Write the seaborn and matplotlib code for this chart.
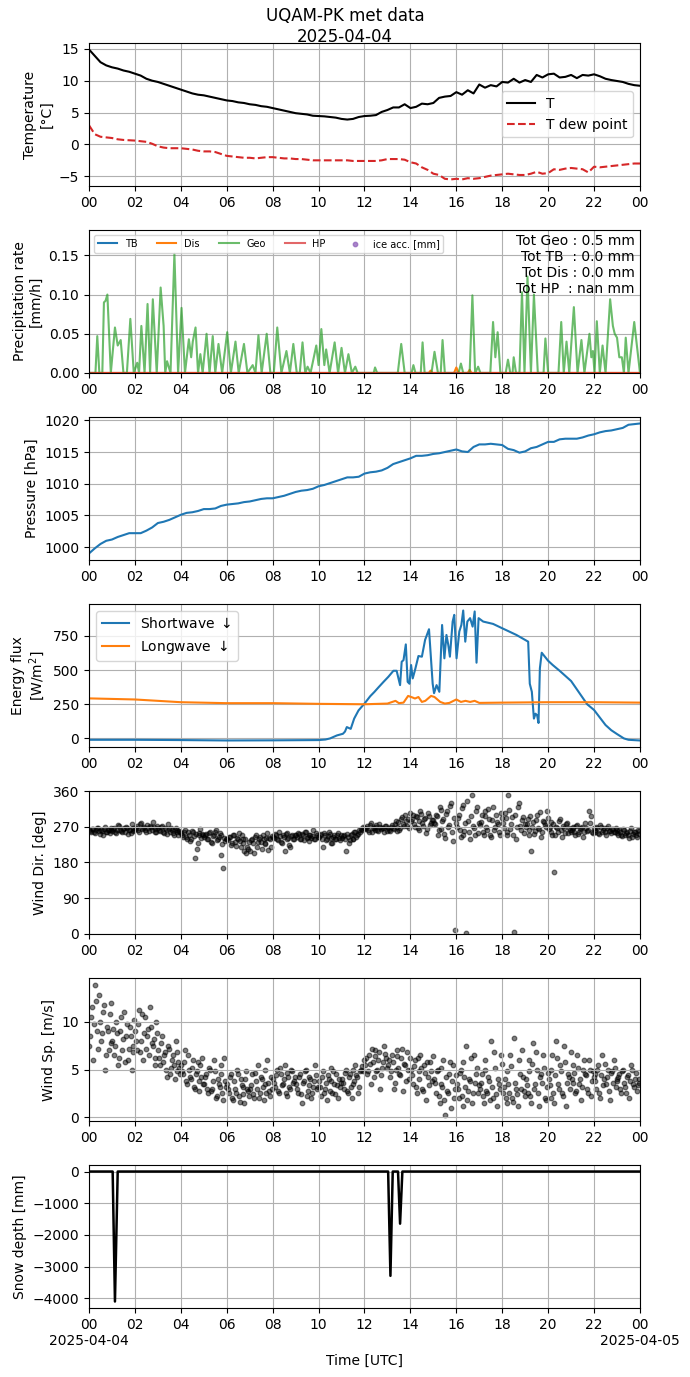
import numpy as np
import pandas as pd
import matplotlib
matplotlib.use("Agg")
import matplotlib.pyplot as plt
import seaborn as sns

# ---------------- data ----------------
DAY = "2025-04-04"
title_text = "UQAM-PK met data\n2025-04-04"

# Temperature (every 15 min)
temp_hours = [i * 0.25 for i in range(97)]
temp_T = [14.9, 13.9, 12.9, 12.4, 12.1, 11.9, 11.6, 11.4, 11.1, 10.8, 10.3, 10.0,
          9.8, 9.5, 9.2, 8.9, 8.6, 8.3, 8.0, 7.8, 7.7, 7.5, 7.3, 7.1,
          6.9, 6.8, 6.6, 6.5, 6.3, 6.2, 6.0, 5.9, 5.7, 5.5, 5.3, 5.1,
          4.9, 4.8, 4.7, 4.5, 4.45, 4.4, 4.3, 4.2, 4.0, 3.9, 4.0, 4.3,
          4.45, 4.5, 4.6, 5.1, 5.4, 5.8, 5.8, 6.3, 5.7, 5.9, 6.4, 6.3,
          6.5, 7.3, 7.5, 7.6, 8.2, 7.8, 8.5, 8.0, 9.4, 8.9, 9.3, 9.1,
          9.8, 9.7, 10.3, 9.7, 10.1, 9.8, 10.9, 10.5, 11.0, 11.1, 10.5, 10.6,
          10.9, 10.4, 10.9, 10.8, 11.0, 10.7, 10.3, 10.1, 9.95, 9.8, 9.5, 9.3, 9.2]
temp_Td = [3.0, 1.6, 1.2, 1.1, 1.0, 0.8, 0.7, 0.65, 0.6, 0.5, 0.4, 0.1,
           -0.3, -0.5, -0.6, -0.6, -0.6, -0.7, -0.8, -1.0, -1.1, -1.1, -1.2, -1.5,
           -1.8, -1.9, -2.0, -2.1, -2.1, -2.2, -2.1, -2.0, -2.0, -2.1, -2.2, -2.2,
           -2.3, -2.3, -2.4, -2.5, -2.5, -2.5, -2.5, -2.5, -2.5, -2.5, -2.6, -2.6,
           -2.6, -2.6, -2.6, -2.5, -2.3, -2.3, -2.3, -2.4, -2.8, -3.0, -3.6, -4.0,
           -4.6, -4.8, -5.4, -5.5, -5.4, -5.5, -5.3, -5.4, -5.3, -5.1, -4.9, -4.8,
           -4.7, -4.6, -4.7, -4.8, -4.8, -4.6, -4.3, -4.6, -4.5, -3.9, -4.0, -3.8,
           -3.7, -3.8, -3.9, -4.4, -3.5, -3.6, -3.5, -3.4, -3.3, -3.2, -3.1, -3.0, -3.0]

# Precipitation rate [mm/h]
geo_hours = [0.00, 0.28, 0.36, 0.45, 0.58, 0.65, 0.72, 0.80, 0.95, 1.13, 1.25, 1.38, 1.50, 1.65,
             1.80, 1.95, 2.10, 2.18, 2.28, 2.42, 2.55, 2.66, 2.78, 2.95, 3.12, 3.25, 3.32, 3.40,
             3.55, 3.72, 3.88, 4.03, 4.18, 4.35, 4.45, 4.52, 4.64, 4.75, 4.85, 4.95, 5.12, 5.25,
             5.39, 5.50, 5.64, 5.80, 6.02, 6.18, 6.38, 6.52, 6.75, 6.90, 7.13, 7.25, 7.38, 7.52,
             7.74, 7.90, 8.05, 8.20, 8.38, 8.60, 8.75, 8.90, 9.05, 9.18, 9.30, 9.42, 9.52, 9.65,
             9.90, 10.00, 10.12, 10.25, 10.33, 10.48, 10.70, 10.85, 11.00, 11.15, 11.30, 11.45,
             11.60, 11.70, 12.40, 12.46, 12.55, 13.45, 13.60, 13.75, 14.05, 14.13, 14.22, 14.45,
             14.53, 14.62, 14.92, 15.05, 15.20, 15.32, 15.40, 15.50, 16.10, 16.20, 16.30, 16.58,
             16.70, 16.82, 16.95, 17.05, 17.48, 17.60, 17.70, 17.80, 17.92, 18.15, 18.25, 18.35,
             18.45, 18.50, 18.60, 18.75, 18.86, 18.97, 19.10, 19.25, 19.38, 19.55, 19.80, 19.88,
             20.00, 20.45, 20.57, 20.68, 20.80, 20.92, 21.12, 21.28, 21.45, 21.58, 21.80, 21.88,
             21.95, 22.02, 22.12, 22.25, 22.37, 22.50, 22.70, 22.82, 22.90, 23.00, 23.10, 23.21,
             23.30, 23.38, 23.50, 23.75, 24.00]
geo_vals = [0.0, 0.0, 0.047, 0.0, 0.0, 0.090, 0.092, 0.100, 0.0, 0.058, 0.035, 0.042, 0.0, 0.0,
            0.069, 0.0, 0.013, 0.0, 0.060, 0.0, 0.088, 0.0, 0.094, 0.0, 0.109, 0.060, 0.0, 0.015,
            0.0, 0.152, 0.0, 0.083, 0.0, 0.043, 0.020, 0.040, 0.058, 0.0, 0.024, 0.0, 0.050, 0.0,
            0.047, 0.0, 0.037, 0.0, 0.052, 0.0, 0.040, 0.0, 0.037, 0.0, 0.010, 0.0, 0.048, 0.0,
            0.050, 0.0, 0.0, 0.058, 0.0, 0.028, 0.0, 0.037, 0.0, 0.0, 0.039, 0.0, 0.008, 0.0,
            0.035, 0.010, 0.056, 0.010, 0.030, 0.0, 0.039, 0.0, 0.032, 0.0, 0.024, 0.0,
            0.008, 0.0, 0.0, 0.007, 0.0, 0.0, 0.037, 0.0, 0.0, 0.010, 0.0, 0.0,
            0.039, 0.0, 0.0, 0.027, 0.0, 0.0, 0.042, 0.0, 0.0, 0.012, 0.0, 0.0,
            0.099, 0.0, 0.008, 0.0, 0.0, 0.065, 0.020, 0.052, 0.0, 0.0, 0.017, 0.0,
            0.0, 0.020, 0.0, 0.0, 0.103, 0.0, 0.123, 0.0, 0.100, 0.0, 0.0, 0.044,
            0.0, 0.0, 0.065, 0.0, 0.040, 0.0, 0.084, 0.0, 0.042, 0.0, 0.050, 0.020,
            0.028, 0.0, 0.066, 0.0, 0.035, 0.0, 0.094, 0.060, 0.050, 0.045, 0.020, 0.020,
            0.0, 0.045, 0.0, 0.065, 0.0]
dis_hours = [0.0, 14.80, 14.88, 14.96, 15.90, 16.00, 16.10, 16.50, 16.58, 16.66, 24.0]
dis_vals = [0.0, 0.0, 0.003, 0.0, 0.0, 0.007, 0.0, 0.0, 0.004, 0.0, 0.0]
tb_hours = [0.0, 24.0]
tb_vals = [0.0, 0.0]
hp_hours = [0.0, 24.0]
hp_vals = [0.0, 0.0]
totals_text = "Tot Geo : 0.5 mm\nTot TB  : 0.0 mm\nTot Dis : 0.0 mm\nTot HP  : nan mm"

# Pressure [hPa] (every 15 min)
pres_hours = [i * 0.25 for i in range(97)]
pres_vals = [999.0, 999.8, 1000.5, 1001.0, 1001.2, 1001.6, 1001.9, 1002.2, 1002.2, 1002.2, 1002.6, 1003.1,
             1003.8, 1004.0, 1004.3, 1004.7, 1005.1, 1005.4, 1005.5, 1005.7, 1006.0, 1006.0, 1006.1, 1006.5,
             1006.7, 1006.8, 1006.9, 1007.1, 1007.2, 1007.4, 1007.6, 1007.7, 1007.7, 1007.9, 1008.1, 1008.4,
             1008.7, 1008.9, 1009.0, 1009.2, 1009.6, 1009.8, 1010.1, 1010.4, 1010.7, 1011.0, 1011.0, 1011.1,
             1011.6, 1011.8, 1011.9, 1012.1, 1012.5, 1013.1, 1013.4, 1013.7, 1014.0, 1014.4, 1014.4, 1014.5,
             1014.7, 1014.8, 1015.0, 1015.2, 1015.4, 1015.1, 1015.0, 1015.8, 1016.2, 1016.2, 1016.3, 1016.2,
             1016.1, 1015.5, 1015.3, 1014.9, 1015.1, 1015.6, 1015.8, 1016.2, 1016.6, 1016.6, 1017.0, 1017.1,
             1017.1, 1017.1, 1017.3, 1017.6, 1017.8, 1018.1, 1018.3, 1018.4, 1018.6, 1018.8, 1019.3, 1019.4, 1019.5]

# Energy flux [W/m2]
sw_hours = [0.0, 2.0, 4.0, 6.0, 8.0, 10.0, 10.3, 10.5, 10.8, 11.06, 11.15, 11.23, 11.4, 11.55, 11.74,
            12.0, 12.25, 12.43, 12.6, 12.83, 13.04, 13.26, 13.4, 13.55, 13.62, 13.7, 13.8, 13.88, 13.96,
            14.03, 14.1, 14.2, 14.35, 14.5, 14.64, 14.81, 14.97, 15.03, 15.14, 15.26, 15.38, 15.48,
            15.57, 15.65, 15.72, 15.84, 15.91, 16.01, 16.13, 16.22, 16.3, 16.39, 16.48, 16.6, 16.71,
            16.8, 16.88, 16.97, 17.17, 17.6, 18.0, 18.62, 19.13, 19.2, 19.29, 19.38, 19.45, 19.52,
            19.58, 19.64, 19.72, 20.0, 20.2, 20.5, 21.0, 21.7, 22.0, 22.5, 22.75, 23.0, 23.3, 23.5, 24.0]
sw_vals = [-10, -10, -12, -15, -14, -12, -8, 0, 22, 34, 50, 83, 70, 145, 205,
           255, 309, 340, 372, 414, 451, 495, 495, 390, 561, 573, 688, 414, 400,
           537, 439, 500, 603, 598, 721, 799, 400, 331, 390, 341, 830, 586,
           757, 684, 598, 855, 904, 586, 782, 830, 936, 708, 855, 880, 818,
           929, 554, 880, 855, 838, 806, 757, 708, 400, 341, 145, 181, 169,
           113, 513, 627, 568, 537, 495, 420, 250, 208, 98, 60, 32, 0, -10, -15]
lw_hours = [0.0, 2.0, 4.0, 6.0, 8.0, 10.0, 12.0, 13.0, 13.35, 13.5, 13.7, 13.9, 14.1, 14.2, 14.35,
            14.5, 14.65, 14.9, 15.05, 15.3, 15.5, 15.7, 16.0, 16.2, 16.4, 16.6, 16.8, 17.0, 18.0,
            20.0, 22.0, 24.0]
lw_vals = [293, 285, 265, 258, 258, 253, 250, 255, 275, 258, 262, 311, 299, 292, 303,
           267, 275, 311, 303, 267, 255, 260, 285, 267, 275, 267, 275, 260, 262,
           265, 265, 262]

# Wind direction [deg]: two sets of 12 samples per hour (interleaved in time)
wd_a = [
    [262, 258, 265, 255, 268, 260, 263, 250, 270, 257, 262, 266],
    [260, 268, 255, 275, 262, 258, 266, 270, 252, 263, 278, 260],
    [265, 272, 258, 280, 268, 262, 275, 260, 270, 283, 265, 258],
    [268, 260, 272, 255, 265, 278, 258, 262, 250, 268, 256, 260],
    [255, 245, 262, 240, 250, 238, 258, 192, 215, 248, 265, 252],
    [245, 252, 238, 258, 230, 248, 262, 240, 255, 199, 166, 235],
    [238, 245, 225, 250, 232, 242, 255, 220, 240, 210, 205, 215],
    [208, 240, 205, 250, 232, 245, 215, 238, 228, 255, 242, 220],
    [245, 252, 238, 258, 232, 248, 210, 255, 242, 220, 250, 240],
    [248, 255, 240, 252, 236, 258, 245, 250, 242, 262, 238, 250],
    [245, 252, 218, 248, 238, 256, 242, 230, 250, 240, 255, 236],
    [242, 250, 208, 245, 236, 252, 240, 256, 248, 262, 265, 270],
    [265, 272, 258, 280, 268, 262, 275, 260, 270, 266, 258, 272],
    [268, 260, 275, 265, 285, 270, 262, 290, 278, 300, 272, 268],
    [285, 300, 270, 295, 262, 310, 280, 290, 255, 305, 275, 288],
    [280, 300, 250, 320, 265, 290, 242, 310, 275, 330, 235, 9],
    [270, 300, 245, 325, 260, 2, 285, 240, 350, 268, 310, 255],
    [275, 300, 250, 310, 262, 290, 245, 320, 270, 282, 258, 305],
    [280, 305, 250, 350, 265, 295, 5, 240, 320, 272, 288, 255],
    [270, 290, 250, 210, 282, 260, 300, 265, 245, 285, 275, 310],
    [265, 282, 250, 156, 270, 258, 290, 245, 268, 276, 255, 262],
    [262, 270, 250, 275, 258, 266, 245, 280, 260, 310, 298, 255],
    [262, 270, 255, 275, 258, 266, 250, 272, 260, 264, 256, 268],
    [255, 262, 248, 265, 250, 258, 242, 268, 252, 256, 245, 260],
]
wd_b = [
    [259, 264, 256, 261, 267, 253, 260, 265, 258, 262, 255, 263],
    [265, 257, 262, 272, 259, 264, 256, 268, 261, 254, 266, 262],
    [268, 262, 276, 264, 270, 258, 266, 273, 262, 269, 257, 271],
    [262, 270, 258, 266, 252, 264, 268, 255, 261, 263, 248, 257],
    [250, 258, 244, 256, 235, 260, 246, 252, 228, 254, 242, 248],
    [248, 240, 254, 232, 246, 258, 236, 244, 250, 226, 242, 238],
    [236, 244, 230, 248, 222, 240, 234, 250, 228, 238, 218, 232],
    [236, 228, 244, 218, 240, 232, 250, 226, 242, 212, 238, 246],
    [242, 250, 236, 246, 228, 244, 252, 238, 225, 246, 240, 248],
    [244, 252, 238, 248, 256, 242, 234, 250, 246, 240, 254, 244],
    [248, 240, 254, 236, 246, 252, 230, 244, 238, 250, 242, 248],
    [246, 238, 252, 230, 248, 240, 256, 244, 252, 258, 262, 266],
    [268, 262, 274, 258, 266, 270, 262, 276, 264, 268, 272, 260],
    [262, 270, 266, 276, 260, 282, 268, 294, 272, 284, 290, 305],
    [290, 278, 298, 268, 284, 302, 272, 292, 264, 296, 280, 286],
    [276, 296, 262, 312, 284, 252, 302, 270, 322, 258, 292, 280],
    [292, 262, 316, 250, 280, 335, 258, 296, 272, 248, 320, 280],
    [282, 256, 298, 270, 315, 250, 288, 262, 300, 276, 248, 292],
    [268, 292, 258, 312, 276, 248, 300, 270, 330, 262, 294, 278],
    [278, 262, 296, 270, 252, 288, 266, 308, 258, 282, 270, 292],
    [270, 258, 278, 250, 266, 284, 262, 272, 254, 280, 266, 258],
    [266, 258, 272, 252, 264, 270, 256, 268, 262, 280, 258, 266],
    [258, 266, 252, 270, 262, 256, 268, 260, 254, 264, 258, 262],
    [250, 258, 246, 262, 254, 248, 260, 244, 256, 250, 262, 252],
]

# Wind speed [m/s]: two sets of 12 samples per hour (interleaved in time)
ws_a = [
    [7.5, 10.5, 6.0, 13.9, 9.0, 12.8, 8.0, 11.0, 5.0, 9.5, 7.0, 12.0],
    [8.0, 6.5, 10.0, 5.5, 9.0, 7.0, 11.0, 8.5, 6.0, 9.5, 5.0, 7.5],
    [9.0, 7.0, 11.2, 8.0, 6.0, 10.5, 8.5, 6.5, 9.5, 7.5, 5.5, 10.0],
    [7.0, 5.5, 8.5, 6.5, 5.0, 7.5, 4.5, 6.0, 5.5, 8.0, 4.8, 5.2],
    [5.5, 4.5, 7.0, 3.5, 5.0, 4.0, 6.0, 3.0, 4.8, 2.8, 5.5, 6.2],
    [3.5, 4.5, 2.5, 5.0, 3.0, 6.0, 2.0, 4.0, 3.2, 5.5, 1.8, 3.8],
    [3.5, 2.5, 4.5, 1.8, 3.0, 5.0, 2.2, 4.0, 3.2, 1.5, 4.8, 2.8],
    [3.0, 4.5, 2.0, 3.8, 5.5, 2.5, 4.0, 1.8, 3.5, 6.0, 2.8, 4.2],
    [4.0, 3.2, 5.0, 2.5, 4.5, 3.5, 5.5, 2.2, 4.2, 3.0, 4.8, 3.8],
    [3.5, 2.5, 4.5, 1.5, 3.8, 5.0, 2.8, 4.2, 2.0, 3.2, 5.5, 3.0],
    [3.8, 2.2, 4.8, 3.0, 1.8, 4.0, 5.2, 2.5, 3.5, 4.5, 2.0, 3.2],
    [4.0, 3.0, 5.0, 2.5, 4.5, 2.0, 3.5, 5.5, 4.2, 3.2, 5.0, 4.8],
    [5.5, 4.5, 6.5, 3.5, 5.8, 7.0, 4.8, 6.0, 3.0, 5.2, 7.5, 6.2],
    [5.5, 4.2, 6.5, 3.0, 5.0, 7.0, 4.5, 6.2, 2.8, 5.5, 6.8, 4.0],
    [5.0, 3.5, 6.0, 2.5, 4.8, 6.5, 3.0, 5.5, 1.8, 4.2, 5.8, 3.8],
    [4.0, 2.5, 5.0, 1.5, 3.5, 6.0, 0.3, 2.8, 4.5, 1.0, 5.5, 3.0],
    [3.5, 2.0, 5.0, 1.2, 4.2, 7.5, 2.8, 3.8, 1.5, 6.5, 4.5, 2.5],
    [3.0, 4.5, 1.5, 6.0, 2.5, 3.8, 8.0, 2.0, 5.2, 1.2, 3.5, 6.5],
    [2.5, 4.0, 1.5, 3.5, 6.5, 2.0, 8.3, 3.0, 1.2, 4.5, 7.0, 2.8],
    [4.0, 2.5, 6.0, 1.5, 7.8, 3.5, 5.0, 1.2, 4.5, 6.5, 2.0, 3.2],
    [4.0, 2.0, 6.5, 1.5, 8.0, 3.5, 5.5, 2.5, 7.5, 1.2, 4.5, 3.0],
    [4.0, 5.5, 2.5, 6.5, 3.5, 1.8, 5.0, 4.5, 3.0, 6.0, 2.2, 4.8],
    [4.5, 3.0, 5.5, 2.0, 6.5, 4.0, 3.5, 5.0, 1.8, 4.8, 6.0, 3.2],
    [3.8, 4.5, 2.5, 5.0, 3.2, 4.2, 2.0, 5.5, 3.5, 4.0, 2.8, 3.6],
]
ws_b = [
    [8.5, 11.5, 9.8, 12.2, 7.2, 10.0, 8.8, 11.8, 6.5, 9.0, 10.8, 7.8],
    [9.2, 7.5, 8.8, 6.2, 10.5, 8.2, 5.8, 9.8, 7.2, 8.5, 6.8, 10.2],
    [8.0, 9.8, 6.8, 10.8, 8.8, 7.2, 9.2, 11.5, 7.8, 8.2, 6.2, 8.8],
    [6.2, 7.8, 5.8, 6.8, 4.2, 7.2, 5.2, 6.5, 4.0, 6.8, 5.8, 4.5],
    [4.8, 5.8, 3.8, 6.5, 4.2, 5.2, 3.2, 4.5, 5.8, 3.8, 4.2, 3.5],
    [4.2, 3.0, 5.2, 2.8, 3.8, 4.8, 2.2, 3.5, 4.5, 2.5, 6.2, 3.2],
    [3.0, 4.2, 2.0, 3.8, 2.6, 4.5, 1.6, 3.4, 2.4, 4.0, 3.0, 2.2],
    [3.4, 2.4, 4.6, 3.0, 2.0, 4.2, 3.2, 5.0, 2.6, 3.6, 2.2, 3.0],
    [3.6, 4.4, 2.8, 5.2, 3.4, 4.0, 2.6, 4.6, 3.2, 5.0, 3.6, 4.2],
    [3.0, 4.2, 2.4, 3.6, 4.8, 2.2, 3.4, 4.0, 2.6, 3.8, 4.4, 3.2],
    [3.2, 4.2, 2.6, 3.6, 4.4, 2.8, 3.8, 4.8, 2.4, 3.4, 4.0, 3.6],
    [3.6, 4.6, 2.8, 4.2, 3.2, 5.0, 3.8, 4.4, 2.6, 4.8, 5.4, 6.0],
    [6.2, 4.8, 5.6, 7.2, 4.2, 6.4, 5.0, 6.8, 4.4, 5.8, 6.6, 5.2],
    [6.0, 4.8, 5.8, 3.6, 6.4, 5.2, 4.4, 7.2, 5.6, 3.8, 5.0, 6.2],
    [4.4, 5.4, 3.2, 6.2, 4.0, 5.2, 2.8, 4.6, 5.8, 3.4, 4.8, 6.4],
    [3.6, 4.8, 2.2, 5.2, 3.2, 1.8, 4.2, 2.6, 5.8, 3.8, 2.0, 4.4],
    [3.0, 4.6, 2.2, 5.8, 3.2, 1.8, 4.0, 6.2, 2.6, 3.6, 5.2, 3.4],
    [3.6, 2.2, 5.0, 2.8, 4.2, 1.8, 3.2, 6.8, 2.4, 4.0, 3.0, 5.6],
    [3.2, 2.0, 4.8, 2.6, 5.4, 1.6, 3.6, 2.4, 6.0, 3.0, 4.2, 2.2],
    [3.4, 4.8, 2.2, 5.6, 3.0, 6.8, 2.6, 4.2, 3.6, 5.2, 1.8, 4.6],
    [3.4, 5.0, 2.6, 4.4, 6.2, 3.0, 4.8, 2.2, 5.8, 3.6, 4.2, 6.8],
    [3.6, 4.6, 2.8, 5.2, 4.0, 3.2, 6.0, 4.4, 2.6, 5.0, 3.8, 4.2],
    [3.8, 5.0, 2.6, 4.4, 3.4, 5.6, 4.2, 2.8, 4.6, 3.6, 5.2, 4.0],
    [4.2, 3.0, 4.8, 3.6, 2.6, 4.4, 3.8, 5.0, 3.2, 4.6, 3.4, 4.0],
]

# Snow depth [mm]
snow_hours = [0.0, 1.03, 1.13, 1.25, 13.03, 13.13, 13.23, 13.46, 13.55, 13.65, 24.0]
snow_vals = [0, 0, -4100, 0, 0, -3290, 0, 0, -1645, 0, 0]

tick_labels_bottom = ["00\n2025-04-04", "02", "04", "06", "08", "10", "12",
                      "14", "16", "18", "20", "22", "00\n2025-04-05"]

# ---------------- helpers ----------------
t0 = pd.Timestamp(DAY)
def to_time(hours):
    return t0 + pd.to_timedelta(np.asarray(hours, dtype=float), unit="h")

def hourly_frame(set_a, set_b):
    hrs, vals = [], []
    for h in range(len(set_a)):
        for off, lst in ((0.25, set_a[h]), (0.75, set_b[h])):
            n = len(lst)
            for i, v in enumerate(lst):
                hrs.append(h + (i + off) / n)
                vals.append(v)
    return pd.DataFrame({"time": to_time(hrs), "val": vals})

# ---------------- figure ----------------
fig = plt.figure(figsize=(6.9, 13.77), dpi=100)
axes = fig.subplots(7, 1)
fig.subplots_adjust(left=0.129, right=0.9275, top=0.9688, bottom=0.0501, hspace=0.308)
fig.suptitle(title_text, y=0.995, fontsize=12)

# 1 temperature
ax = axes[0]
sns.lineplot(x=to_time(temp_hours), y=temp_T, ax=ax, color="black", lw=1.5, label="T")
sns.lineplot(x=to_time(temp_hours), y=temp_Td, ax=ax, color="tab:red", lw=1.5,
             linestyle="--", label="T dew point")
ax.set_ylabel("Temperature\n[°C]")
ax.legend(loc="center right", fontsize=10)

# 2 precipitation
ax = axes[1]
sns.lineplot(x=to_time(tb_hours), y=tb_vals, ax=ax, color="tab:blue", lw=1.5, label="TB")
sns.lineplot(x=to_time(dis_hours), y=dis_vals, ax=ax, color="tab:orange", lw=1.5, label="Dis")
sns.lineplot(x=to_time(geo_hours), y=geo_vals, ax=ax, color="tab:green", lw=1.5, alpha=0.7, label="Geo")
sns.lineplot(x=to_time(hp_hours), y=hp_vals, ax=ax, color="tab:red", lw=1.5, alpha=0.7, label="HP")
ax.scatter([], [], color="tab:purple", s=10, alpha=0.8, label="ice acc. [mm]")
ax.set_ylim(0, 0.1824)
ax.set_ylabel("Precipitation rate\n[mm/h]")
ax.legend(loc="upper left", ncol=5, fontsize=7)
ax.text(0.99, 0.975, totals_text, transform=ax.transAxes, ha="right", va="top", fontsize=10)

# 3 pressure
ax = axes[2]
sns.lineplot(x=to_time(pres_hours), y=pres_vals, ax=ax, color="tab:blue", lw=1.5)
ax.set_ylabel("Pressure [hPa]")

# 4 energy flux
ax = axes[3]
sns.lineplot(x=to_time(sw_hours), y=sw_vals, ax=ax, color="tab:blue", lw=1.5, label="Shortwave $\\downarrow$")
sns.lineplot(x=to_time(lw_hours), y=lw_vals, ax=ax, color="tab:orange", lw=1.5, label="Longwave $\\downarrow$")
ax.set_yticks([0, 250, 500, 750])
ax.set_ylabel("Energy flux\n[W/m$^2$]")
ax.legend(loc="upper left", fontsize=10)

# 5 wind direction
ax = axes[4]
dfd = hourly_frame(wd_a, wd_b)
sns.scatterplot(data=dfd, x="time", y="val", ax=ax, color="black", alpha=0.5, s=11,
                edgecolor="black", linewidth=0.9)
ax.set_ylim(0, 360)
ax.set_yticks([0, 90, 180, 270, 360])
ax.set_ylabel("Wind Dir. [deg]")

# 6 wind speed
ax = axes[5]
dfs = hourly_frame(ws_a, ws_b)
sns.scatterplot(data=dfs, x="time", y="val", ax=ax, color="black", alpha=0.5, s=11,
                edgecolor="black", linewidth=0.9)
ax.set_yticks([0, 5, 10])
ax.set_ylabel("Wind Sp. [m/s]")

# 7 snow depth
ax = axes[6]
sns.lineplot(x=to_time(snow_hours), y=snow_vals, ax=ax, color="black", lw=1.8)
ax.set_ylabel("Snow depth [mm]")

tick_times = to_time(list(range(0, 25, 2)))
for i, ax in enumerate(axes):
    ax.set_xlim(t0, t0 + pd.Timedelta(hours=24))
    ax.set_xticks(tick_times)
    if i == 6:
        ax.set_xticklabels(tick_labels_bottom)
    else:
        ax.set_xticklabels([l.split("\n")[0] for l in tick_labels_bottom])
    ax.grid(True, color="#b0b0b0", linewidth=0.8)
    ax.set_xlabel("")
axes[6].set_xlabel("Time [UTC]")

fig.savefig("out.png", dpi=100)
